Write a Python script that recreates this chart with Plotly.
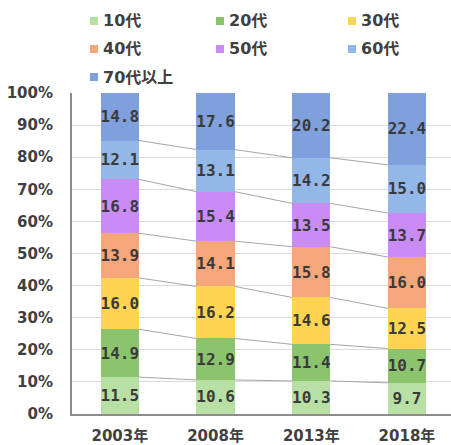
import plotly.graph_objects as go

years = ["2003年", "2008年", "2013年", "2018年"]
groups = ["10代", "20代", "30代", "40代", "50代", "60代", "70代以上"]
v10 = [11.5, 10.6, 10.3, 9.7]
v20 = [14.9, 12.9, 11.4, 10.7]
v30 = [16.0, 16.2, 14.6, 12.5]
v40 = [13.9, 14.1, 15.8, 16.0]
v50 = [16.8, 15.4, 13.5, 13.7]
v60 = [12.1, 13.1, 14.2, 15.0]
v70 = [14.8, 17.6, 20.2, 22.4]
series = [v10, v20, v30, v40, v50, v60, v70]
colors = ["#b8e0a4", "#8cc46e", "#ffd452", "#f5a67b", "#c98cf5", "#93b7e6", "#7fa0dc"]

W, H = 451, 445
ML, MR, MT, MB = 72, 0, 93, 31
BAR_W = 0.4
xs = list(range(len(years)))

fig = go.Figure()

# stacked bars (100% normalised)
for name, vals, col in zip(groups, series, colors):
    fig.add_trace(go.Bar(
        x=xs, y=vals, name=name, width=BAR_W,
        marker=dict(color=col, line=dict(width=0)),
        text=[f"{v:.1f}" for v in vals], textposition="inside", textangle=0,
        insidetextanchor="middle", constraintext="none",
        textfont=dict(family="DejaVu Sans Mono", size=16, color="#3a3a3a", weight="bold"),
        showlegend=False, cliponaxis=False,
    ))

# series lines joining segment boundaries of neighbouring bars
totals = [sum(s[i] for s in series) for i in xs]
cum = [[0.0] * len(xs) for _ in series]
for i in xs:
    run = 0.0
    for k, s in enumerate(series):
        run += s[i]
        cum[k][i] = run / totals[i] * 100
for k in range(len(series) - 1):
    for i in xs[:-1]:
        fig.add_trace(go.Scatter(
            x=[i + BAR_W / 2, i + 1 - BAR_W / 2], y=[cum[k][i], cum[k][i + 1]],
            mode="lines", line=dict(color="#a6a6a6", width=1),
            showlegend=False, hoverinfo="skip",
        ))

# legend laid out in three columns above the plot
pw = W - ML - MR
ph = H - MT - MB
col_x = [90, 216, 348]
row_y = [21, 49, 77]
shapes = []
annotations = []
for idx, (name, col) in enumerate(zip(groups, colors)):
    r, c = divmod(idx, 3)
    px, py = col_x[c], row_y[r]
    x0 = (px - ML) / pw
    x1 = (px + 8 - ML) / pw
    y0 = (H - MB - (py + 4)) / ph
    y1 = (H - MB - (py - 4)) / ph
    shapes.append(dict(type="rect", xref="paper", yref="paper", x0=x0, x1=x1,
                       y0=y0, y1=y1, fillcolor=col, line=dict(width=0)))
    annotations.append(dict(
        xref="paper", yref="paper", x=(px + 11 - ML) / pw, y=(H - MB - py) / ph,
        text=name, showarrow=False, xanchor="left", yanchor="middle",
        font=dict(family="DejaVu Sans, Noto Sans CJK JP", size=16, color="#404040", weight="bold"),
    ))

fig.update_layout(
    width=W, height=H,
    margin=dict(l=ML, r=MR, t=MT, b=MB, autoexpand=False),
    barmode="stack", barnorm="percent",
    plot_bgcolor="white", paper_bgcolor="white",
    shapes=shapes, annotations=annotations,
    xaxis=dict(
        range=[-0.5, 3.46], tickmode="array", tickvals=xs, ticktext=years,
        showgrid=False, zeroline=False, showline=True, linecolor="#8c8c8c", linewidth=2,
        ticks="", ticklabelstandoff=7, automargin=False,
        tickfont=dict(family="DejaVu Sans, Noto Sans CJK JP", size=15, color="#404040", weight="bold"),
    ),
    yaxis=dict(
        range=[0, 100], dtick=10, ticksuffix="%",
        showgrid=True, gridcolor="#dcdcdc", gridwidth=1, zeroline=False,
        showline=True, linecolor="#8c8c8c", linewidth=2,
        ticks="", ticklabelstandoff=14, automargin=False,
        tickfont=dict(family="DejaVu Sans", size=15, color="#404040", weight="bold"),
    ),
)

fig.write_html("out.html")
